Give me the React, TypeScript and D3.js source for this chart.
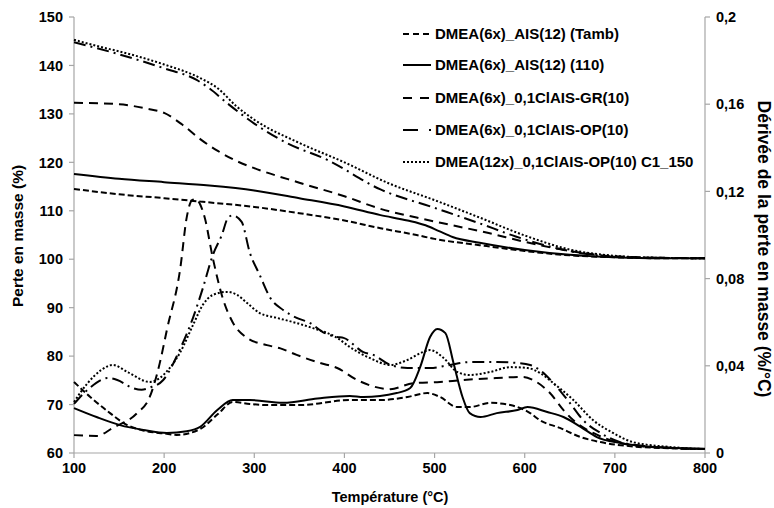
import React from "react";
import * as d3 from "d3";

// ---------- Data ----------
const xTicks = [100, 200, 300, 400, 500, 600, 700, 800];
const yLeftTicks = [60, 70, 80, 90, 100, 110, 120, 130, 140, 150];
const yRightTicks = [0, 0.04, 0.08, 0.12, 0.16, 0.2];
const yRightLabels = ["0", "0,04", "0,08", "0,12", "0,16", "0,2"];

const seriesNames = [
  "DMEA(6x)_AIS(12) (Tamb)",
  "DMEA(6x)_AIS(12) (110)",
  "DMEA(6x)_0,1ClAIS-GR(10)",
  "DMEA(6x)_0,1ClAIS-OP(10)",
  "DMEA(12x)_0,1ClAIS-OP(10) C1_150",
];

// TGA (left axis, %)
const tgaTambT = [100, 150, 200, 240, 300, 350, 400, 440, 480, 500, 550, 600, 650, 700, 750, 800];
const tgaTambV = [114.5, 113.4, 112.6, 111.9, 110.8, 109.5, 108.0, 106.4, 105.0, 104.2, 102.9, 101.7, 100.8, 100.4, 100.2, 100.2];

const tga110T = [100, 150, 200, 250, 300, 350, 400, 440, 470, 490, 505, 520, 550, 600, 650, 700, 750, 800];
const tga110V = [117.6, 116.6, 115.9, 115.2, 114.2, 112.6, 110.9, 109.1, 108.0, 107.0, 105.8, 104.6, 103.4, 101.9, 100.9, 100.4, 100.2, 100.2];

const tgaGRT = [100, 150, 180, 200, 220, 240, 260, 280, 300, 350, 400, 440, 480, 520, 560, 600, 650, 700, 750, 800];
const tgaGRV = [132.3, 132.0, 131.1, 130.2, 127.8, 124.8, 122.3, 120.3, 118.8, 115.8, 113.0, 110.4, 108.6, 107.0, 105.4, 103.6, 101.7, 100.6, 100.3, 100.2];

const tgaOPT = [100, 150, 200, 236, 250, 270, 300, 336, 381, 440, 500, 550, 590, 630, 680, 720, 800];
const tgaOPV = [144.8, 142.3, 139.4, 137.0, 135.3, 132.2, 128.0, 124.0, 120.5, 114.4, 110.6, 107.4, 104.7, 102.5, 100.8, 100.4, 100.2];

const tgaC1T = [100, 130, 150, 200, 240, 260, 280, 300, 350, 400, 450, 500, 550, 600, 650, 700, 750, 800];
const tgaC1V = [145.3, 143.8, 142.9, 140.2, 137.4, 135.2, 131.6, 128.8, 124.0, 120.0, 115.6, 112.2, 108.6, 104.9, 102.0, 100.7, 100.3, 100.2];

// DTG (right axis, %/°C)
const dtgTambT = [100, 118, 140, 159, 175, 203, 214, 240, 260, 276, 295, 314, 351, 406, 440, 470, 492, 506, 525, 539, 562, 584, 606, 617, 639, 662, 684, 720, 760, 800];
const dtgTambV = [0.0326, 0.0257, 0.0183, 0.0128, 0.0105, 0.0088, 0.0083, 0.011, 0.018, 0.0234, 0.0225, 0.022, 0.022, 0.0243, 0.0243, 0.0257, 0.0275, 0.0257, 0.0211, 0.0211, 0.023, 0.022, 0.0183, 0.015, 0.0115, 0.0073, 0.005, 0.003, 0.0022, 0.0018];

const dtg110T = [100, 125, 151, 177, 203, 225, 240, 259, 276, 295, 332, 370, 406, 421, 458, 473, 484, 495, 503, 512, 521, 531, 539, 551, 569, 592, 603, 625, 643, 662, 680, 706, 743, 800];
const dtg110V = [0.0206, 0.0165, 0.0128, 0.0106, 0.0092, 0.01, 0.012, 0.0197, 0.0243, 0.0243, 0.023, 0.025, 0.0262, 0.0257, 0.0275, 0.0298, 0.0394, 0.0532, 0.0569, 0.055, 0.0413, 0.0257, 0.0183, 0.0165, 0.0183, 0.0197, 0.0211, 0.0188, 0.0165, 0.012, 0.0073, 0.0046, 0.0028, 0.002];

const dtgGRT = [100, 125, 143, 170, 184, 195, 203, 218, 225, 231, 235, 240, 245, 254, 265, 276, 292, 314, 329, 347, 373, 392, 414, 451, 476, 506, 532, 569, 598, 609, 628, 643, 654, 676, 706, 740, 800];
const dtgGRV = [0.0082, 0.0078, 0.0115, 0.0183, 0.0257, 0.041, 0.0564, 0.085, 0.108, 0.116, 0.1165, 0.114, 0.108, 0.0894, 0.071, 0.06, 0.0528, 0.0495, 0.048, 0.045, 0.0413, 0.039, 0.0335, 0.0293, 0.032, 0.0326, 0.0335, 0.0344, 0.0349, 0.0335, 0.0275, 0.0197, 0.015, 0.0092, 0.0046, 0.0028, 0.0018];

const dtgOPT = [100, 115, 138, 148, 165, 175, 184, 199, 218, 232, 243, 254, 264, 271, 276, 286, 295, 306, 318, 332, 347, 362, 376, 392, 399, 421, 432, 451, 470, 495, 517, 539, 569, 592, 606, 617, 632, 650, 665, 684, 706, 740, 800];
const dtgOPV = [0.0225, 0.029, 0.0344, 0.0335, 0.0298, 0.029, 0.03, 0.0335, 0.048, 0.062, 0.0757, 0.0908, 0.1, 0.108, 0.109, 0.106, 0.092, 0.0817, 0.071, 0.0656, 0.062, 0.0596, 0.0555, 0.0532, 0.0528, 0.0463, 0.045, 0.0404, 0.039, 0.039, 0.0404, 0.0417, 0.0417, 0.0413, 0.0404, 0.038, 0.032, 0.023, 0.015, 0.0092, 0.005, 0.003, 0.0018];

const dtgC1T = [100, 115, 130, 143, 160, 184, 207, 218, 232, 243, 254, 270, 281, 292, 306, 325, 347, 365, 392, 406, 428, 451, 470, 487, 495, 510, 525, 539, 562, 584, 603, 617, 632, 654, 676, 698, 720, 760, 800];
const dtgC1V = [0.0234, 0.032, 0.038, 0.0404, 0.037, 0.0326, 0.0394, 0.0463, 0.0587, 0.068, 0.0725, 0.0739, 0.0725, 0.0688, 0.0642, 0.062, 0.0596, 0.0573, 0.0528, 0.0486, 0.0436, 0.0404, 0.0427, 0.0463, 0.0472, 0.0436, 0.0372, 0.0358, 0.0372, 0.0394, 0.039, 0.0367, 0.032, 0.0243, 0.015, 0.0092, 0.005, 0.0028, 0.0018];

// ---------- Styles ----------
const dashes = ["6,3", "", "9,6", "12,5,2,5", "2,2"];
const legendDashes = ["6,4", "", "9,8", "15,11,2,10", "2,2"];

const W = 774;
const H = 508;
const M = { left: 74, right: 705, top: 17, bottom: 453 };
const FONT = "'Liberation Sans', Arial, sans-serif";

export default function App() {
  const x = d3.scaleLinear().domain([100, 800]).range([M.left, M.right]);
  const yL = d3.scaleLinear().domain([60, 150]).range([M.bottom, M.top]);
  const yR = d3.scaleLinear().domain([0, 0.2]).range([M.bottom, M.top]);

  const mk = (T: number[], V: number[]) => T.map((t, i) => [t, V[i]] as [number, number]);
  const lineL = d3.line<[number, number]>().x((d) => x(d[0])).y((d) => yL(d[1])).curve(d3.curveMonotoneX);
  const lineR = d3.line<[number, number]>().x((d) => x(d[0])).y((d) => yR(d[1])).curve(d3.curveMonotoneX);

  const tga = [mk(tgaTambT, tgaTambV), mk(tga110T, tga110V), mk(tgaGRT, tgaGRV), mk(tgaOPT, tgaOPV), mk(tgaC1T, tgaC1V)];
  const dtg = [mk(dtgTambT, dtgTambV), mk(dtg110T, dtg110V), mk(dtgGRT, dtgGRV), mk(dtgOPT, dtgOPV), mk(dtgC1T, dtgC1V)];

  const axisColor = "#a6a6a6";
  const legendY = [34, 65, 98, 130, 162];

  return (
    <svg width={W} height={H} style={{ position: "absolute", left: 0, top: 0, background: "#fff" }} fontFamily={FONT} fontWeight="bold">
      {/* axes */}
      <line x1={M.left} x2={M.left} y1={M.top} y2={M.bottom} stroke={axisColor} strokeWidth={1.2} />
      <line x1={M.right} x2={M.right} y1={M.top} y2={M.bottom} stroke={axisColor} strokeWidth={1.2} />
      <line x1={M.left} x2={M.right} y1={M.bottom} y2={M.bottom} stroke={axisColor} strokeWidth={1.2} />
      {yLeftTicks.map((t) => (
        <g key={"l" + t}>
          <line x1={M.left - 5} x2={M.left} y1={yL(t)} y2={yL(t)} stroke={axisColor} strokeWidth={1.2} />
          <text x={M.left - 11} y={yL(t)} dy="0.36em" textAnchor="end" fontSize={14.5}>{t}</text>
        </g>
      ))}
      {yRightTicks.map((t, i) => (
        <g key={"r" + t}>
          <line x1={M.right} x2={M.right + 5} y1={yR(t)} y2={yR(t)} stroke={axisColor} strokeWidth={1.2} />
          <text x={M.right + 11} y={yR(t)} dy="0.36em" textAnchor="start" fontSize={14.5}>{yRightLabels[i]}</text>
        </g>
      ))}
      {xTicks.map((t) => (
        <g key={"x" + t}>
          <line x1={x(t)} x2={x(t)} y1={M.bottom} y2={M.bottom + 5} stroke={axisColor} strokeWidth={1.2} />
          <text x={x(t)} y={M.bottom + 20} textAnchor="middle" fontSize={14.5}>{t}</text>
        </g>
      ))}

      {/* axis titles */}
      <text x={390} y={502} textAnchor="middle" fontSize={14.5}>Température (°C)</text>
      <text transform={`translate(23,236) rotate(-90)`} textAnchor="middle" fontSize={15.5}>Perte en masse (%)</text>
      <text transform={`translate(758,249) rotate(90)`} textAnchor="middle" fontSize={17.5}>Dérivée de la perte en masse (%/°C)</text>

      {/* curves */}
      {tga.map((s, i) => (
        <path key={"tga" + i} d={lineL(s) || ""} fill="none" stroke="#000" strokeWidth={2} strokeDasharray={dashes[i] || undefined} />
      ))}
      {dtg.map((s, i) => (
        <path key={"dtg" + i} d={lineR(s) || ""} fill="none" stroke="#000" strokeWidth={2} strokeDasharray={dashes[i] || undefined} />
      ))}

      {/* legend */}
      {seriesNames.map((n, i) => (
        <g key={"lg" + i}>
          <line x1={403} x2={431} y1={legendY[i]} y2={legendY[i]} stroke="#000" strokeWidth={2} strokeDasharray={legendDashes[i] || undefined} />
          <text x={435} y={legendY[i]} dy="0.36em" fontSize={15}>{n}</text>
        </g>
      ))}
    </svg>
  );
}
